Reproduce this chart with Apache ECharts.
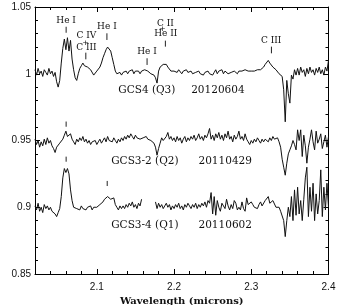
<!DOCTYPE html>
<html><head><meta charset="utf-8">
<script src="https://cdn.jsdelivr.net/npm/echarts@6/dist/echarts.min.js"></script>
<style>html,body{margin:0;padding:0;background:#fff}#c{width:338px;height:305px}</style>
</head><body><div id="c"></div>
<script>
const wavelength = [
2.020,2.022,2.024,2.026,2.028,2.030,2.032,2.034,2.036,2.038,
2.040,2.042,2.044,2.046,2.048,2.050,2.052,2.054,2.056,2.058,
2.060,2.062,2.064,2.066,2.068,2.070,2.072,2.074,2.076,2.078,
2.080,2.082,2.084,2.086,2.088,2.090,2.092,2.094,2.096,2.098,
2.100,2.102,2.104,2.106,2.108,2.110,2.112,2.114,2.116,2.118,
2.120,2.122,2.124,2.126,2.128,2.130,2.132,2.134,2.136,2.138,
2.140,2.142,2.144,2.146,2.148,2.150,2.152,2.154,2.156,2.158,
2.160,2.162,2.164,2.166,2.168,2.170,2.172,2.174,2.176,2.178,
2.180,2.182,2.184,2.186,2.188,2.190,2.192,2.194,2.196,2.198,
2.200,2.202,2.204,2.206,2.208,2.210,2.212,2.214,2.216,2.218,
2.220,2.222,2.224,2.226,2.228,2.230,2.232,2.234,2.236,2.238,
2.240,2.242,2.244,2.246,2.248,2.250,2.252,2.254,2.256,2.258,
2.260,2.262,2.264,2.266,2.268,2.270,2.272,2.274,2.276,2.278,
2.280,2.282,2.284,2.286,2.288,2.290,2.292,2.294,2.296,2.298,
2.300,2.302,2.304,2.306,2.308,2.310,2.312,2.314,2.316,2.318,
2.320,2.322,2.324,2.326,2.328,2.330,2.332,2.334,2.336,2.338,
2.340,2.342,2.344,2.346,2.348,2.350,2.352,2.354,2.356,2.358,
2.360,2.362,2.364,2.366,2.368,2.370,2.372,2.374,2.376,2.378,
2.380,2.382,2.384,2.386,2.388,2.390,2.392,2.394,2.396,2.398,
2.400];

const fluxGCS4 = [
1.003,0.999,1.004,1.000,1.002,0.998,1.003,1.001,0.999,1.004,
1.000,1.002,0.998,1.001,0.994,0.990,0.995,1.008,1.019,1.026,
1.018,1.027,1.017,1.025,1.011,1.003,0.997,0.995,1.000,1.004,
1.006,1.008,1.006,1.007,1.005,1.006,1.003,1.002,0.999,1.000,
1.002,1.003,1.005,1.008,1.012,1.015,1.018,1.020,1.021,1.017,
1.012,1.007,1.002,1.000,0.999,1.001,0.999,1.001,1.000,1.002,
1.000,1.002,1.001,1.003,1.000,1.002,1.001,1.002,1.000,1.002,
1.001,1.003,1.004,1.002,1.001,1.000,1.000,0.999,0.997,0.993,
1.002,1.005,1.006,1.007,1.008,1.007,1.005,1.004,1.002,1.001,
1.002,1.003,1.001,1.003,1.002,1.000,1.002,1.001,1.003,1.001,
1.000,1.002,1.000,0.999,1.001,1.000,1.002,1.000,1.001,0.999,
1.001,1.000,1.002,1.000,1.001,0.999,1.001,1.003,1.000,1.002,
1.001,1.003,1.000,1.002,1.001,1.000,0.999,1.001,1.000,1.002,
1.001,1.000,1.002,1.001,1.002,1.001,1.003,1.002,1.002,1.003,
1.002,1.003,1.002,1.003,1.003,1.004,1.003,1.004,1.005,1.007,
1.008,1.010,1.008,1.007,1.005,1.004,1.003,1.002,1.000,0.999,
0.998,0.988,0.964,0.995,0.985,0.978,0.999,0.996,1.003,0.999,
1.004,0.999,1.005,1.001,1.003,0.998,1.004,1.000,1.005,1.001,
1.003,0.999,1.004,1.001,1.005,1.000,1.003,0.999,1.005,1.002,
1.010];

const fluxGCS3_2 = [
0.951,0.947,0.950,0.945,0.949,0.946,0.951,0.947,0.952,0.948,
0.950,0.946,0.944,0.941,0.945,0.944,0.948,0.947,0.951,0.954,
0.957,0.953,0.954,0.955,0.951,0.949,0.947,0.951,0.949,0.952,
0.950,0.953,0.949,0.951,0.948,0.950,0.947,0.949,0.948,0.950,
0.947,0.949,0.951,0.948,0.950,0.952,0.949,0.953,0.950,0.951,
0.949,0.952,0.950,0.948,0.951,0.949,0.952,0.950,0.953,0.951,
0.954,0.952,0.955,0.953,0.951,0.954,0.952,0.953,0.951,0.952,
0.952,0.951,0.953,0.951,0.950,0.950,0.949,0.948,0.945,0.939,
0.944,0.948,0.952,0.950,0.951,0.953,0.956,0.951,0.953,0.950,
0.952,0.949,0.953,0.950,0.952,0.948,0.951,0.953,0.949,0.952,
0.950,0.953,0.951,0.954,0.950,0.952,0.955,0.951,0.953,0.950,
0.954,0.952,0.955,0.959,0.951,0.954,0.950,0.955,0.952,0.956,
0.951,0.954,0.950,0.955,0.952,0.957,0.951,0.953,0.949,0.954,
0.951,0.953,0.957,0.951,0.953,0.950,0.955,0.951,0.949,0.947,
0.950,0.948,0.951,0.949,0.952,0.950,0.948,0.951,0.949,0.951,
0.950,0.949,0.952,0.950,0.953,0.951,0.950,0.952,0.949,0.945,
0.936,0.930,0.924,0.933,0.940,0.943,0.946,0.950,0.947,0.943,
0.958,0.950,0.958,0.938,0.954,0.946,0.933,0.945,0.951,0.958,
0.949,0.943,0.957,0.948,0.951,0.955,0.944,0.949,0.954,0.945,
0.953];

const fluxGCS3_4 = [
0.901,0.898,0.903,0.897,0.900,0.896,0.902,0.899,0.901,0.898,
0.900,0.897,0.898,0.895,0.893,0.896,0.899,0.908,0.922,0.929,
0.926,0.929,0.925,0.913,0.905,0.900,0.901,0.899,0.900,0.898,
0.901,0.899,0.900,0.898,0.900,0.899,0.901,0.898,0.900,0.899,
0.900,0.901,0.902,0.903,0.904,0.906,0.907,0.908,0.909,0.906,
0.905,0.907,0.902,0.900,0.898,0.901,0.899,0.901,0.899,0.902,
0.900,0.903,0.901,0.904,0.900,0.902,0.899,0.903,0.901,0.906,
null,null,null,null,null,null,null,null,0.904,0.899,
0.903,0.900,0.902,0.899,0.901,0.903,0.900,0.902,0.898,0.901,
0.899,0.902,0.900,0.903,0.899,0.901,0.898,0.902,0.900,0.903,
0.901,0.899,0.902,0.900,0.903,0.899,0.902,0.900,0.903,0.901,
0.904,0.900,0.905,0.903,0.911,0.895,0.908,0.894,0.905,0.900,
0.897,0.903,0.902,0.899,0.906,0.901,0.898,0.902,0.899,0.905,
0.903,0.898,0.900,0.898,0.904,0.899,0.897,0.907,0.902,0.901,
0.904,0.902,0.900,0.901,0.899,0.902,0.904,0.901,0.902,0.905,
0.906,0.908,0.903,0.902,0.905,0.904,0.900,0.901,0.900,0.897,
0.897,0.890,0.878,0.890,0.900,0.893,0.908,0.890,0.913,0.894,
0.915,0.895,0.905,0.890,0.906,0.922,0.930,0.893,0.915,0.897,
0.918,0.890,0.910,0.895,0.905,0.928,0.893,0.915,0.898,0.918,
0.900];

const xMajorTicks = [2.1, 2.2, 2.3, 2.4];
const xMinorTicks = [2.04, 2.06, 2.08, 2.12, 2.14, 2.16, 2.18, 2.22, 2.24, 2.26, 2.28, 2.32, 2.34, 2.36, 2.38];
const yMajorTicks = [0.85, 0.9, 0.95, 1, 1.05];
const yMinorTicks = [0.86, 0.87, 0.88, 0.89, 0.91, 0.92, 0.93, 0.94, 0.96, 0.97, 0.98, 0.99, 1.01, 1.02, 1.03, 1.04];

// short vertical line-identification markers
const markerX  = [2.0603, 2.0858, 2.1131, 2.1651, 2.1888, 2.3261, 2.0603, 2.0603, 2.1135];
const markerY1 = [1.0307, 1.0108, 1.0253, 1.0066, 1.0203, 1.0153, 0.9603, 0.9341, 0.9159];
const markerY2 = [1.0352, 1.0158, 1.0303, 1.0116, 1.0248, 1.0203, 0.9642, 0.9379, 0.9197];

// line identification labels
const lineLabelText = ['He I', 'C IV', '+', 'C III', 'He I', 'He I', 'C II', '+', 'He II', 'C III'];
const lineLabelX    = [2.0603, 2.0866, 2.0856, 2.0866, 2.1131, 2.1651, 2.1888, 2.1850, 2.1893, 2.3258];
const lineLabelY    = [1.0397, 1.0283, 1.0233, 1.0197, 1.0354, 1.0163, 1.0373, 1.0333, 1.0300, 1.0245];

// spectrum captions
const captionText = ['GCS4 (Q3)', '20120604', 'GCS3-2 (Q2)', '20110429', 'GCS3-4 (Q1)', '20110602'];
const captionX    = [2.1278, 2.2222, 2.1187, 2.2317, 2.1187, 2.2317];
const captionY    = [0.9876, 0.9876, 0.9341, 0.9341, 0.8867, 0.8867];

const X_MIN = 2.02, X_MAX = 2.4, Y_MIN = 0.85, Y_MAX = 1.05;
const INK = '#000';
const SERIF = '"DejaVu Serif", serif';

function pairs(ys) { return wavelength.map((w, i) => [w, ys[i]]); }

function xAx(pos, major, withLabel, withLine) {
  return {
    type: 'value', min: X_MIN, max: X_MAX, position: pos,
    axisLine: { show: withLine, onZero: false, lineStyle: { color: INK, width: 1 } },
    axisTick: { show: true, inside: true, length: major ? 5 : 3, customValues: major ? xMajorTicks : xMinorTicks, lineStyle: { color: INK, width: 1 } },
    axisLabel: withLabel ? { show: true, customValues: xMajorTicks, color: '#111', fontSize: 10, fontFamily: '"Liberation Sans", Arial, sans-serif', margin: 8 } : { show: false },
    splitLine: { show: false },
    name: withLabel ? 'Wavelength (microns)' : '',
    nameLocation: 'middle', nameGap: 19,
    nameTextStyle: { color: '#111', fontSize: 10, fontWeight: 'bold', fontFamily: SERIF }
  };
}
function yAx(pos, major, withLabel, withLine) {
  return {
    type: 'value', min: Y_MIN, max: Y_MAX, position: pos,
    axisLine: { show: withLine, onZero: false, lineStyle: { color: INK, width: 1 } },
    axisTick: { show: true, inside: true, length: major ? 5 : 3, customValues: major ? yMajorTicks : yMinorTicks, lineStyle: { color: INK, width: 1 } },
    axisLabel: withLabel ? { show: true, customValues: yMajorTicks, color: '#111', fontSize: 10, fontFamily: '"Liberation Sans", Arial, sans-serif', margin: 4 } : { show: false },
    splitLine: { show: false },
    name: withLabel ? 'Normalized Intensity' : '',
    nameLocation: 'middle', nameGap: 23,
    nameTextStyle: { color: '#111', fontSize: 10, fontWeight: 'bold', fontFamily: SERIF }
  };
}

const chart = echarts.init(document.getElementById('c'), null, { renderer: 'canvas' });
chart.setOption({
  animation: false,
  backgroundColor: '#fff',
  grid: { left: 35, right: 9.5, top: 7, bottom: 31, containLabel: false, outerBoundsMode: 'none' },
  xAxis: [xAx('bottom', true, true, true), xAx('bottom', false, false, false), xAx('top', true, false, true), xAx('top', false, false, false)],
  yAxis: [yAx('left', true, true, true), yAx('left', false, false, false), yAx('right', true, false, true), yAx('right', false, false, false)],
  series: [
    { type: 'line', data: pairs(fluxGCS4), showSymbol: false, lineStyle: { color: '#111', width: 1 }, silent: true },
    { type: 'line', data: pairs(fluxGCS3_2), showSymbol: false, lineStyle: { color: '#111', width: 1 }, silent: true },
    { type: 'line', data: pairs(fluxGCS3_4), showSymbol: false, connectNulls: false, lineStyle: { color: '#111', width: 1 }, silent: true },
    {
      type: 'custom', silent: true,
      data: markerX.map((x, i) => [x, markerY1[i], markerY2[i]]),
      renderItem: (params, api) => {
        const a = api.coord([api.value(0), api.value(1)]);
        const b = api.coord([api.value(0), api.value(2)]);
        return { type: 'line', shape: { x1: a[0], y1: a[1], x2: b[0], y2: b[1] }, style: { stroke: '#222', lineWidth: 1 } };
      }
    },
    {
      type: 'custom', silent: true,
      data: lineLabelX.map((x, i) => [x, lineLabelY[i]]),
      renderItem: (params, api) => {
        const p = api.coord([api.value(0), api.value(1)]);
        const t = lineLabelText[params.dataIndex];
        return { type: 'text', x: p[0], y: p[1], style: { text: t, fill: '#111', fontSize: t === '+' ? 8 : 9, fontFamily: SERIF, align: 'center', verticalAlign: 'middle' } };
      }
    },
    {
      type: 'custom', silent: true,
      data: captionX.map((x, i) => [x, captionY[i]]),
      renderItem: (params, api) => {
        const p = api.coord([api.value(0), api.value(1)]);
        return { type: 'text', x: p[0], y: p[1], style: { text: captionText[params.dataIndex], fill: '#111', fontSize: 10.5, fontFamily: SERIF, align: 'left', verticalAlign: 'middle' } };
      }
    }
  ]
});
</script>
</body></html>
